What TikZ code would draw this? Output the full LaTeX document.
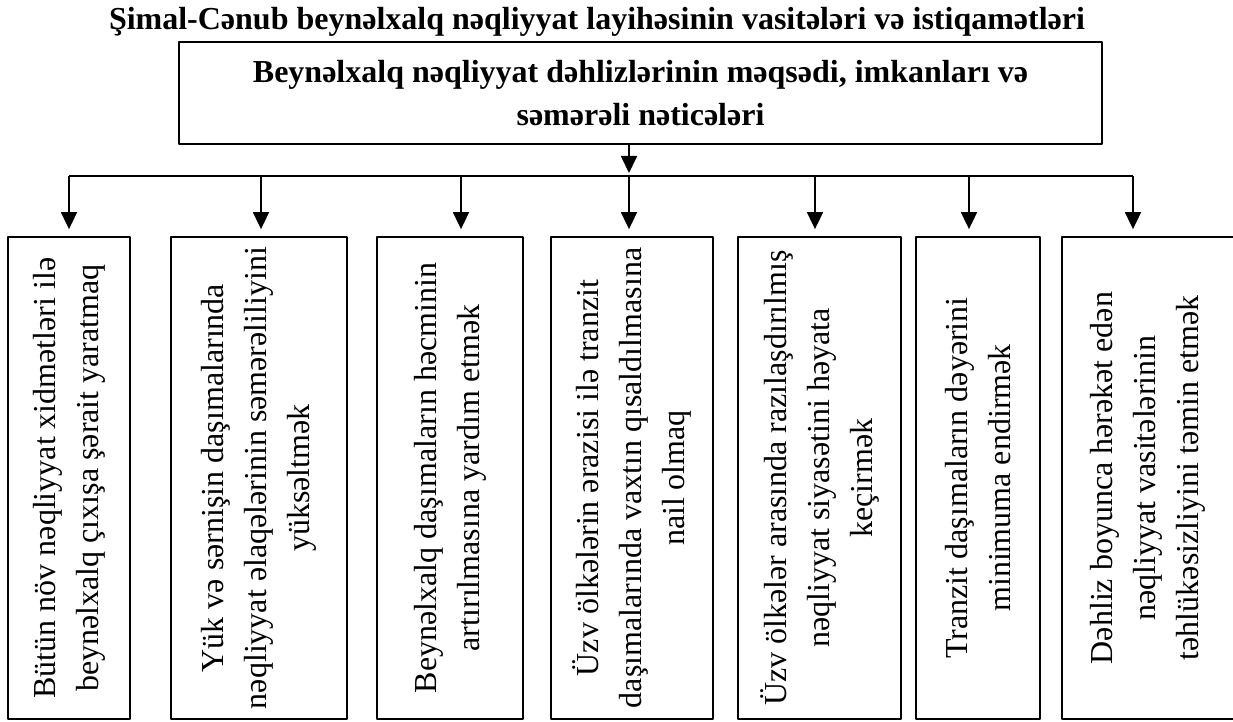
\documentclass[tikz,border=0pt]{standalone}
\usepackage{fontspec}
\setmainfont{Liberation Serif}
\usetikzlibrary{arrows.meta}

\begin{document}
\begin{tikzpicture}[
  x=0.5pt, y=-0.5pt,
  line join=round,
  edge/.style={line width=0.9pt},
  arr/.style={edge, -{Triangle[width=8pt,length=8.5pt]}},
  box/.style={draw, line width=0.9pt, inner sep=0pt, align=center},
  leaf/.style={box, rotate=90, minimum width=241pt, font=\fontsize{16}{21.5}\selectfont},
]
\useasboundingbox (0,0) rectangle (1233,722);

% the heading and the main box
\node[anchor=base, font=\fontsize{16}{19}\selectfont\bfseries] (title) at (597,30)
  {Şimal-Cənub beynəlxalq nəqliyyat layihəsinin vasitələri və istiqamətləri};
\node[box, minimum width=461.5pt, minimum height=51pt, font=\fontsize{16}{21.5}\selectfont\bfseries] (main) at (640.5,93)
  {Beynəlxalq nəqliyyat dəhlizlərinin məqsədi, imkanları və\\ səmərəli nəticələri};

% the bus under it
\foreach \i/\x in {1/69,2/261,3/461,4/629,5/815,6/969,7/1133} { \coordinate (t\i) at (\x,176); }
\draw[edge] (t1) -- (t7);
\draw[arr, shorten >=1.5pt] (main.south -| t4) -- (t4);

% the seven goals, text turned upright
\foreach \i/\cx/\w/\txt in {
  1/69/61pt/{Bütün növ nəqliyyat xidmətləri ilə\\ beynəlxalq çıxışa şərait yaratmaq},
  2/259/88pt/{Yük və sərnişin daşımalarında\\ nəqliyyat əlaqələrinin səmərəliliyini\\ yüksəltmək},
  3/450/73pt/{Beynəlxalq daşımaların həcminin\\ artırılmasına yardım etmək},
  4/632/81pt/{Üzv ölkələrin ərazisi ilə tranzit\\ daşımalarında vaxtın qısaldılmasına\\ nail olmaq},
  5/819.5/81.5pt/{Üzv ölkələr arasında razılaşdırılmış\\ nəqliyyat siyasətini həyata\\ keçirmək},
  6/978/62pt/{Tranzit daşımaların dəyərini\\ minimuma endirmək},
  7/1148/86pt/{Dəhliz boyunca hərəkət edən\\ nəqliyyat vasitələrinin\\ təhlükəsizliyini təmin etmək}} {
  \node[leaf, minimum height=\w] (b\i) at (\cx,478) {\txt};
  \draw[arr, shorten >=3.5pt] (t\i) -- (t\i |- b\i.east);
}

\end{tikzpicture}
\end{document}
